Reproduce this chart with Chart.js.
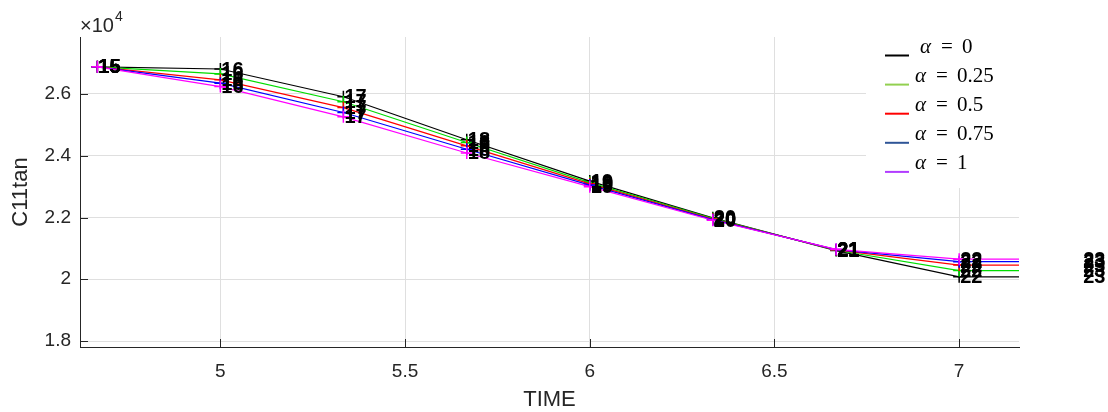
<!DOCTYPE html>
<html>
<head>
<meta charset="utf-8">
<script src="https://cdn.jsdelivr.net/npm/chart.js@4/dist/chart.umd.min.js"></script>
<style>
  html, body { margin: 0; padding: 0; background: #fff; }
  #wrap { width: 1108px; height: 412px; }
</style>
</head>
<body>
<div id="wrap"><canvas id="c11Chart" width="1108" height="412"></canvas></div>
<script>
// time of each step, and the step number written next to every point
const timeValues = [4.667, 5, 5.333, 5.667, 6, 6.333, 6.667, 7, 7.333];
const stepLabels = ['15', '16', '17', '18', '19', '20', '21', '22', '23'];

// C11tan (x 1e4), one list per alpha
const alpha0   = [2.688, 2.681, 2.591, 2.452, 2.318, 2.199, 2.093, 2.008, 2.008];
const alpha025 = [2.688, 2.665, 2.575, 2.443, 2.313, 2.197, 2.094, 2.028, 2.028];
const alpha05  = [2.688, 2.646, 2.556, 2.432, 2.309, 2.195, 2.095, 2.046, 2.046];
const alpha075 = [2.688, 2.635, 2.540, 2.421, 2.305, 2.193, 2.096, 2.057, 2.057];
const alpha1   = [2.688, 2.624, 2.526, 2.409, 2.300, 2.191, 2.097, 2.065, 2.065];

const legendValues = ['0', '0.25', '0.5', '0.75', '1'];
const xTicks = [5, 5.5, 6, 6.5, 7];
const yTicks = [1.8, 2, 2.2, 2.4, 2.6];

const lineColors   = ['#000000', '#00dd00', '#ff0000', '#0000ff', '#ff00ff'];
const legendColors = ['#000000', '#92d050', '#ff0000', '#2f5597', '#b13cff'];
const seriesList   = [alpha0, alpha025, alpha05, alpha075, alpha1];

const tickFont = { family: '"Liberation Sans", Arial, sans-serif', size: 19 };

const decorations = {
  id: 'decorations',
  afterDatasetsDraw(chart) {
    const ctx = chart.ctx;
    const xs = chart.scales.x, ys = chart.scales.y;
    const area = chart.chartArea;
    ctx.save();

    // ticks pointing inwards, like matlab
    ctx.strokeStyle = '#262626';
    ctx.lineWidth = 1;
    ctx.beginPath();
    xTicks.forEach(v => {
      const px = Math.round(xs.getPixelForValue(v)) + 0.5;
      ctx.moveTo(px, area.bottom);
      ctx.lineTo(px, area.bottom - 8);
    });
    yTicks.forEach(v => {
      const py = Math.round(ys.getPixelForValue(v)) + 0.5;
      ctx.moveTo(area.left, py);
      ctx.lineTo(area.left + 8, py);
    });
    ctx.stroke();

    // step numbers next to the points (not clipped)
    ctx.fillStyle = '#000';
    ctx.font = 'bold 20px "Liberation Sans", Arial, sans-serif';
    ctx.textAlign = 'left';
    ctx.textBaseline = 'middle';
    seriesList.forEach(vals => {
      vals.forEach((v, j) => {
        ctx.fillText(stepLabels[j], xs.getPixelForValue(timeValues[j]) + 1, ys.getPixelForValue(v) + 1);
      });
    });

    // legend box
    ctx.fillStyle = '#fff';
    ctx.fillRect(866, 28, 153, 160);
    legendValues.forEach((txt, i) => {
      const ly = 55.5 + i * 29.1;
      ctx.strokeStyle = legendColors[i];
      ctx.lineWidth = 2;
      ctx.beginPath();
      ctx.moveTo(885, ly);
      ctx.lineTo(909, ly);
      ctx.stroke();
      const tx = 915 + (i === 0 ? 5 : 0);
      const ty = ly - 8;
      ctx.fillStyle = '#000';
      ctx.textBaseline = 'middle';
      ctx.font = 'italic 21px "Liberation Serif", serif';
      ctx.fillText('α', tx, ty);
      ctx.font = '21px "Liberation Serif", serif';
      ctx.fillText('=', tx + 21, ty);
      ctx.fillText(txt, tx + 42, ty);
    });

    // exponent label
    ctx.fillStyle = '#262626';
    ctx.textBaseline = 'alphabetic';
    ctx.font = '20px "Liberation Sans", Arial, sans-serif';
    ctx.fillText('×10', 80, 32);
    const w = ctx.measureText('×10').width;
    ctx.font = '14px "Liberation Sans", Arial, sans-serif';
    ctx.fillText('4', 80 + w + 1, 21);

    // axis titles
    ctx.font = '22px "Liberation Sans", Arial, sans-serif';
    ctx.textAlign = 'center';
    ctx.textBaseline = 'middle';
    ctx.fillText('TIME', (area.left + area.right) / 2, 400);
    ctx.translate(21, (area.top + area.bottom) / 2);
    ctx.rotate(-Math.PI / 2);
    ctx.fillText('C11tan', 0, 0);
    ctx.restore();
  }
};

const datasets = seriesList.map((vals, i) => ({
  label: 'α = ' + legendValues[i],
  data: vals.map((v, j) => ({ x: timeValues[j], y: v })),
  borderColor: lineColors[i],
  backgroundColor: lineColors[i],
  borderWidth: 1.2,
  pointStyle: 'cross',
  pointRadius: 6,
  pointBorderWidth: 1.5,
  pointBorderColor: lineColors[i],
  tension: 0,
  order: 5 - i
}));

new Chart(document.getElementById('c11Chart'), {
  type: 'line',
  data: { datasets: datasets },
  options: {
    responsive: false,
    animation: false,
    layout: { padding: { left: 0, top: 37, right: 89, bottom: 0 } },
    plugins: { legend: { display: false }, tooltip: { enabled: false } },
    scales: {
      x: {
        type: 'linear',
        min: 4.62,
        max: 7.162,
        afterFit: s => { s.height = 65; },
        afterBuildTicks: s => { s.ticks = xTicks.map(v => ({ value: v })); },
        grid: { color: '#dfdfdf', drawTicks: false },
        border: { color: '#262626' },
        ticks: { padding: 13, color: '#262626', font: tickFont, maxRotation: 0, autoSkip: false,
                 callback: v => String(v) }
      },
      y: {
        type: 'linear',
        min: 1.7806,
        max: 2.7846,
        afterFit: s => { s.width = 80; },
        afterBuildTicks: s => { s.ticks = yTicks.map(v => ({ value: v })); },
        grid: { color: '#dfdfdf', drawTicks: false },
        border: { color: '#262626' },
        ticks: { padding: 9, color: '#262626', font: tickFont, autoSkip: false,
                 callback: v => String(Number(v.toFixed(1))) }
      }
    }
  },
  plugins: [decorations]
});
</script>
</body>
</html>
